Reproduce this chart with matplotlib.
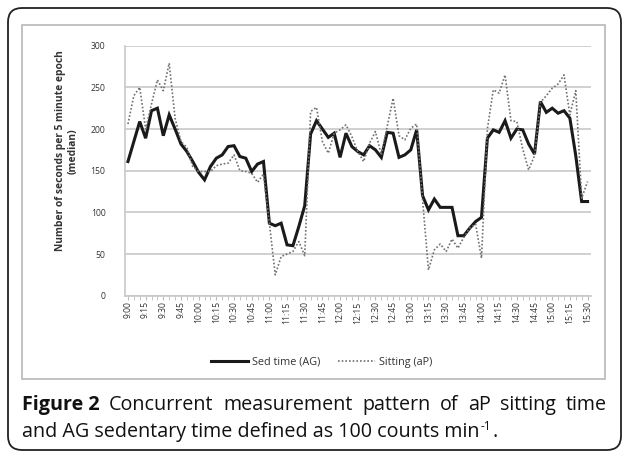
import numpy as np
import matplotlib
matplotlib.use('Agg')
import matplotlib.pyplot as plt
from matplotlib.patches import FancyBboxPatch, Rectangle
from matplotlib.transforms import IdentityTransform

## Data

# 5 minute epochs from 9:00 to 15:30
times = ['%d:%02d' % (9 + m // 60, m % 60) for m in range(0, 395, 5)]

sed_time = [161, 185, 209, 189, 222, 225, 192, 217, 200, 182,
            173, 161, 148, 139, 155, 165, 169, 179, 180, 167,
            165, 149, 158, 161, 87, 84, 87, 61, 60, 83,
            108, 194, 210, 200, 190, 195, 166, 195, 179, 173,
            169, 180, 175, 166, 196, 195, 166, 169, 175, 199,
            120, 103, 116, 106, 106, 106, 72, 72, 81, 89,
            94, 189, 199, 196, 210, 189, 200, 199, 182, 170,
            233, 220, 225, 219, 222, 213, 168, 113, 113]

sitting = [206, 240, 250, 200, 230, 259, 246, 279, 213, 185,
           178, 155, 149, 149, 149, 156, 158, 159, 169, 150,
           149, 147, 136, 146, 87, 25, 47, 50, 53, 65,
           48, 221, 226, 185, 171, 195, 199, 205, 191, 173,
           161, 183, 197, 169, 203, 237, 192, 187, 201, 206,
           115, 31, 55, 62, 53, 68, 57, 70, 81, 86,
           45, 200, 247, 243, 265, 210, 209, 176, 151, 168,
           232, 240, 249, 254, 265, 217, 246, 117, 137]

legend_labels = ['Sed time (AG)', 'Sitting (aP)']
y_ticks = [0, 50, 100, 150, 200, 250, 300]
y_label = 'Number of seconds per 5 minute epoch\n(median)'
caption_bold = 'Figure 2'
caption_line1 = 'Concurrent measurement pattern of aP sitting time'
caption_line2 = 'and AG sedentary time defined as 100 counts min'
caption_sup = '-1'

## Figure

W, H = 629, 458
fig = plt.figure(figsize=(W / 100, H / 100), dpi=100)
fig.patch.set_facecolor('white')

def px(x, y):
    # pixel coords from the top left -> display coords
    return x, H - y

# outer rounded frame
frame = FancyBboxPatch(px(8, 450), 613, 442, boxstyle='round,pad=0,rounding_size=14',
                       transform=IdentityTransform(), fill=False, ec='#222222', lw=1.3)
fig.patches.append(frame)
# inner chart box
box = Rectangle(px(22, 379), 583, 354, transform=IdentityTransform(),
                fill=False, ec='#b8b8b8', lw=1.2)
fig.patches.append(box)

ax = fig.add_axes([125 / W, 1 - 295.7 / H, (590.5 - 125) / W, 250 / H])
x = np.arange(len(times))
ax.plot(x, sed_time, color='#1a1a1a', lw=2.2, solid_joinstyle='miter', label=legend_labels[0])
ax.plot(x, sitting, color='#707070', lw=1.2, ls=(0, (1, 1.2)), label=legend_labels[1])

ax.set_xlim(-0.5, len(times) - 0.5)
ax.set_ylim(0, 300)
ax.set_yticks(y_ticks)
ax.set_yticklabels([str(v) for v in y_ticks], fontsize=6.2, color='#333333', family='Open Sans')
ax.set_xticks(x[::3])
ax.set_xticklabels(times[::3], rotation=90, fontsize=6.2, color='#333333', family='Open Sans')
ax.set_xticks(x, minor=True)
ax.tick_params(axis='y', length=0, pad=14)
ax.tick_params(axis='x', which='both', length=3, color='#bbbbbb', pad=1, direction='out')
ax.grid(axis='y', color='#c8c8c8', lw=1.2)
ax.set_axisbelow(True)
for s in ['top', 'right']:
    ax.spines[s].set_visible(False)
for s in ['left', 'bottom']:
    ax.spines[s].set_color('#c8c8c8')
    ax.spines[s].set_linewidth(1.2)

fig.text(67 / W, 1 - 151 / H, y_label, rotation=90, ha='center', va='center',
         fontsize=7.4, fontweight='bold', color='#333333', family='Open Sans',
         multialignment='center', linespacing=1.15)

fig.legend(loc='center', bbox_to_anchor=(322 / W, 1 - 362 / H), ncol=2, frameon=False,
           prop={'family': 'Open Sans', 'size': 7.8}, handlelength=3.4, columnspacing=1.6,
           handletextpad=0.4, labelcolor='#333333')

## Caption (first line justified)

fig.canvas.draw()
renderer = fig.canvas.get_renderer()
cap_size = 14.2
cap_kw = dict(family='Open Sans', fontsize=cap_size, color='#111111', va='baseline',
              transform=IdentityTransform())

def width_of(t):
    return t.get_window_extent(renderer).width

words = [(caption_bold, 'bold')] + [(w, 'normal') for w in caption_line1.split()]
texts = []
for w, fw in words:
    t = fig.text(0, 0, w, fontweight=fw, **cap_kw)
    texts.append(t)
widths = [width_of(t) for t in texts]
left, right = 22, 607
gap = (right - left - sum(widths)) / (len(words) - 1)
xpos = left
for t, wd in zip(texts, widths):
    t.set_position(px(xpos, 410))
    xpos += wd + gap

t2 = fig.text(*px(left, 437), caption_line2, **cap_kw)
w2 = width_of(t2)
sup = fig.text(*px(left + w2 + 1, 430), caption_sup, family='Open Sans', fontsize=8.5,
               color='#111111', va='baseline', transform=IdentityTransform())
fig.text(*px(left + w2 + 2 + width_of(sup), 437), '.', **cap_kw)

fig.savefig('out.png', dpi=100)
